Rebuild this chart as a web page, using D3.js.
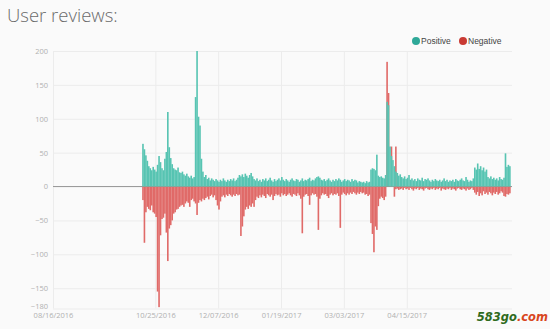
<!DOCTYPE html>
<html>
<head>
<meta charset="utf-8">
<script src="https://cdn.jsdelivr.net/npm/d3@7/dist/d3.min.js"></script>
<style>
  html, body { margin: 0; padding: 0; background: #fafafa; }
  svg { display: block; }
</style>
</head>
<body>
<svg id="chart" width="550" height="329"></svg>
<script>
// Daily review counts, one entry per day starting at firstDay
const firstDay = "2016-10-16";

const positive = [
  63, 55, 46, 38, 30, 27, 24, 29, 25, 22,
  32, 45, 36, 27, 24, 41, 51, 110, 58, 42,
  33, 27, 25, 24, 28, 21, 20, 22, 18, 16,
  19, 15, 13, 16, 12, 14, 132, 200, 103, 90,
  41, 22, 14, 17, 11, 13, 9, 12, 10, 8,
  11, 9, 7, 10, 8, 12, 9, 7, 10, 8,
  11, 9, 12, 8, 10, 13, 17, 15, 18, 14,
  19, 16, 13, 17, 20, 15, 11, 9, 12, 8,
  10, 7, 11, 9, 12, 8, 10, 13, 9, 7,
  11, 8, 10, 12, 9, 14, 10, 8, 11, 9,
  7, 10, 12, 9, 8, 11, 10, 7, 9, 12,
  8, 10, 9, 11, 13, 8, 10, 9, 12, 14,
  15, 13, 10, 9, 11, 8, 10, 12, 9, 7,
  10, 8, 11, 9, 12, 10, 7, 9, 11, 8,
  10, 9, 7, 11, 8, 10, 9, 6, 8, 7,
  6, 7, 5, 8, 6, 7, 25, 27, 26, 24,
  47, 16, 14, 15, 13, 12, 17, 125, 120, 59,
  45, 39, 30, 22, 20, 16, 18, 14, 12, 15,
  11, 13, 17, 10, 12, 9, 11, 8, 12, 10,
  9, 13, 8, 11, 10, 12, 9, 7, 10, 8,
  11, 9, 8, 10, 7, 9, 12, 8, 10, 7,
  9, 8, 10, 7, 11, 9, 8, 10, 12, 9,
  8, 14, 10, 7, 9, 8, 12, 28, 25, 34,
  26, 30, 24, 28, 22, 25, 14, 12, 15, 11,
  13, 10, 12, 9, 14, 11, 10, 13, 49, 29,
  32, 30
];

const negative = [
  -20, -83, -38, -30, -33, -35, -28, -38, -40, -45,
  -155, -178, -72, -48, -46, -40, -68, -110, -62, -57,
  -50, -40, -38, -34, -33, -30, -28, -27, -30, -25,
  -22, -24, -30, -20, -18, -22, -25, -42, -24, -20,
  -22, -18, -20, -17, -15, -19, -14, -12, -16, -13,
  -20, -28, -34, -22, -15, -13, -16, -12, -14, -11,
  -13, -15, -12, -14, -11, -13, -12, -73, -59, -44,
  -34, -30, -33, -28, -30, -25, -30, -20, -15, -17,
  -13, -16, -12, -14, -17, -11, -13, -15, -12, -20,
  -14, -11, -13, -12, -15, -10, -13, -11, -14, -12,
  -10, -13, -15, -11, -12, -14, -10, -13, -18, -69,
  -15, -12, -11, -14, -27, -13, -10, -12, -11, -15,
  -64, -18, -13, -10, -12, -11, -14, -17, -12, -10,
  -13, -11, -12, -10, -14, -61, -12, -9, -11, -13,
  -10, -12, -9, -11, -8, -10, -12, -9, -11, -8,
  -10, -9, -12, -11, -14, -12, -54, -70, -97, -59,
  -64, -29, -18, -15, -17, -20, -15, 0, 0, 0,
  0, 0, -15, -4, -3, -5, -4, -3, -5, -2,
  -4, -3, -5, -2, -4, -6, -3, -4, -2, -5,
  -3, -4, -6, -3, -2, -4, -5, -3, -4, -2,
  -5, -3, -4, -2, -6, -3, -4, -5, -3, -4,
  -2, -5, -3, -4, -6, -3, -2, -4, -5, -3,
  -4, -6, -3, -5, -4, -2, -5, -9, -12, -8,
  -14, -10, -13, -7, -11, -9, -12, -8, -10, -13,
  -9, -11, -8, -12, -10, -7, -9, -14, -15, -11,
  -12, -10
];

// Days where the negative bar was stacked above the positive one
const negativeAboveDays = [167, 168, 170, 173];
const negativeAboveTops = [184, 138, 59, 59];

const yTicks = [200, 150, 100, 50, 0, -50, -100, -150, -180];
const xTickLabels = ["08/16/2016", "10/25/2016", "12/07/2016", "01/19/2017", "03/03/2017", "04/15/2017"];

const seriesNames = ["Positive", "Negative"];
const barColors = ["#57c4b2", "#e06a68"];
const dotColors = ["#2ea898", "#c93a34"];

const parse = d3.timeParse("%Y-%m-%d");
const parseTick = d3.timeParse("%m/%d/%Y");
const start = parse(firstDay);
const dayAt = i => d3.timeDay.offset(start, i);

const svg = d3.select("#chart");
const font = "'Open Sans', 'Lato', sans-serif";

const x = d3.scaleTime()
  .domain([parse("2016-08-16"), parse("2017-06-26")])
  .range([53, 512]);
const y = d3.scaleLinear().domain([-180, 200]).range([308.5, 51]);

// Title
svg.append("text")
  .attr("x", 7).attr("y", 22)
  .attr("font-family", font).attr("font-weight", 300)
  .attr("font-size", 18.5).attr("fill", "#6a6a6a")
  .text("User reviews:");

// Horizontal grid + y labels
const yAxis = d3.axisLeft(y).tickValues(yTicks).tickSize(-(512 - 53)).tickPadding(5);
const gy = svg.append("g").attr("transform", "translate(53,0)").call(yAxis);
gy.select(".domain").remove();
gy.selectAll(".tick line").attr("stroke", "#ececec");
gy.selectAll(".tick text").attr("fill", "#b0b0b0").attr("font-size", 7.5).attr("font-family", font);
// bottom label sits on the last grid line, lift it clear of the date row
gy.selectAll(".tick").filter(d => d === -180).select("text").attr("dy", "-0.05em");

// Vertical grid + x labels
const xTicks = xTickLabels.map(parseTick);
const xAxis = d3.axisBottom(x).tickValues(xTicks).tickFormat(d3.timeFormat("%m/%d/%Y"))
  .tickSize(-(308.5 - 51)).tickPadding(4);
const gx = svg.append("g").attr("transform", "translate(0,308.5)").call(xAxis);
gx.select(".domain").remove();
gx.selectAll(".tick line").attr("stroke", "#ececec");
gx.selectAll(".tick text").attr("fill", "#b0b0b0").attr("font-size", 7.5).attr("font-family", font);

// Zero baseline
svg.append("line")
  .attr("x1", 53).attr("x2", 512).attr("y1", y(0)).attr("y2", y(0))
  .attr("stroke", "#9a9a9a").attr("stroke-width", 1);

const barW = i => x(dayAt(i + 1)) - x(dayAt(i)) + 0.15;
const idx = d3.range(positive.length);

// Negative bars below zero
svg.append("g").selectAll("rect").data(idx).join("rect")
  .attr("x", i => x(dayAt(i)))
  .attr("width", barW)
  .attr("y", y(0))
  .attr("height", i => y(negative[i]) - y(0))
  .attr("fill", barColors[1]);

// Negative bars stacked above zero on a few days
svg.append("g").selectAll("rect").data(negativeAboveDays).join("rect")
  .attr("x", i => x(dayAt(i)))
  .attr("width", barW)
  .attr("y", (i, k) => y(negativeAboveTops[k]))
  .attr("height", (i, k) => y(0) - y(negativeAboveTops[k]))
  .attr("fill", barColors[1]);

// Positive bars
svg.append("g").selectAll("rect").data(idx).join("rect")
  .attr("x", i => x(dayAt(i)))
  .attr("width", barW)
  .attr("y", i => y(positive[i]))
  .attr("height", i => y(0) - y(positive[i]))
  .attr("fill", barColors[0]);

// Legend
const legendX = [416, 463];
seriesNames.forEach((name, k) => {
  svg.append("circle").attr("cx", legendX[k]).attr("cy", 41).attr("r", 4)
    .attr("fill", dotColors[k]);
  svg.append("text").attr("x", legendX[k] + 5).attr("y", 44)
    .attr("font-family", "'Liberation Sans', Arial, sans-serif").attr("font-size", 8.5)
    .attr("fill", "#444").text(name);
});

// Site mark in the corner
const mark = svg.append("text").attr("x", 548).attr("y", 321).attr("text-anchor", "end")
  .attr("font-family", "'DejaVu Sans', sans-serif").attr("font-size", 11.5)
  .attr("font-weight", "bold").attr("font-style", "italic");
mark.append("tspan").attr("fill", "#2f6b1e").text("583go");
mark.append("tspan").attr("fill", "#d8461e").text(".com");
</script>
</body>
</html>
